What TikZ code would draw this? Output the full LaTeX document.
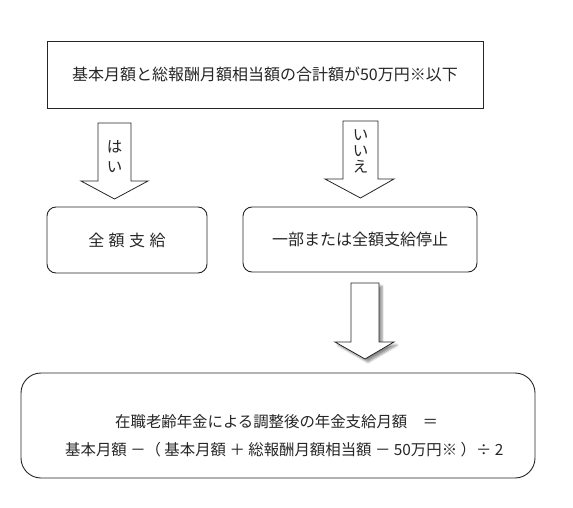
\documentclass[tikz,border=0pt]{standalone}
\usepackage{fontspec}
\setmainfont{Noto Sans CJK JP}
\usetikzlibrary{shadows.blur}
\begin{document}
\begin{tikzpicture}[x=1pt,y=-1pt,
  sqbox/.style={draw=black!85, line width=0.9pt, fill=white, inner sep=0pt},
  rbox/.style={draw=black!85, line width=0.9pt, fill=white, rounded corners=9pt, inner sep=0pt},
  txt/.style={text=black!85, font=\fontsize{16}{19}\selectfont},
  btxt/.style={text=black!85, font=\fontsize{15.4}{18}\selectfont, inner sep=0pt},
  blockarrow/.style={draw=black!85, line width=0.8pt, fill=white, line join=miter},
]
\useasboundingbox (0,0) rectangle (573,508);
% boxes
\node[sqbox, txt, minimum width=436pt, minimum height=67pt] (top) at (265,74.5) {基本月額と総報酬月額相当額の合計額が50万円※以下};
\node[rbox, txt, minimum width=160pt, minimum height=66pt] (full) at (127,240) {全\hspace{4.5pt}額\hspace{4.5pt}支\hspace{4.5pt}給};
\node[rbox, txt, minimum width=234pt, minimum height=65pt] (stop) at (360,239.5) {一部または全額支給停止};
\node[rbox, rounded corners=20pt, minimum width=514pt, minimum height=105pt] (res) at (278,425.5) {};
\node[btxt, anchor=west] (res1) at (115,422) {在職老齢年金による調整後の年金支給月額　＝};
\node[btxt, anchor=west] (res2) at (65,450) {基本月額 －（ 基本月額 ＋ 総報酬月額相当額 － 50万円※ ）÷ 2};
% arrows
\draw[blockarrow] (98,123) -- (131,123) -- (131,181) -- (148,181) -- (114.5,199) -- (81,181) -- (98,181) -- cycle;
\node[txt, align=center, font=\fontsize{15.5}{20}\selectfont] (yes) at (114.5,157) {は\\い};
\draw[blockarrow] (343,121) -- (378,121) -- (378,179) -- (394,179) -- (360.5,198) -- (325,179) -- (343,179) -- cycle;
\node[txt, align=center, font=\fontsize{15.5}{16}\selectfont] (no) at (360.5,151) {い\\い\\え};
\draw[blockarrow, blur shadow={shadow xshift=3pt, shadow yshift=-3pt, shadow blur steps=6, shadow opacity=45}] (351,283) -- (379,283) -- (379,342) -- (394,342) -- (365,359) -- (335,342) -- (351,342) -- cycle;
\end{tikzpicture}
\end{document}
